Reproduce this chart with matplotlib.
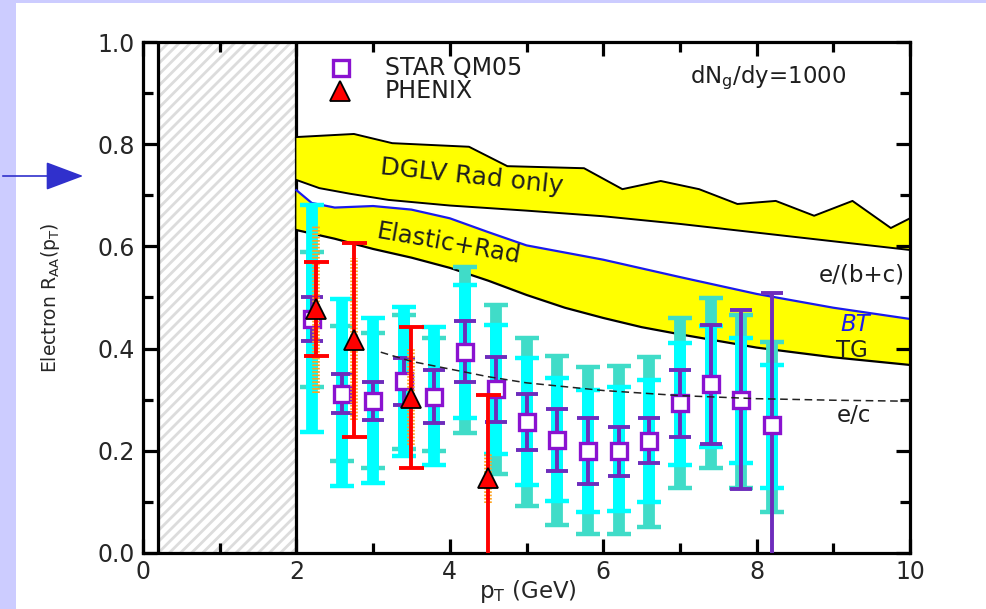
import numpy as np
import matplotlib
matplotlib.use("Agg")
import matplotlib.pyplot as plt
from matplotlib.patches import Rectangle, FancyArrowPatch

plt.rcParams['font.family'] = ['DejaVu Sans']
plt.rcParams['mathtext.fontset'] = 'custom'
plt.rcParams['mathtext.rm'] = 'DejaVu Sans'
plt.rcParams['mathtext.it'] = 'DejaVu Sans:italic'
plt.rcParams['hatch.linewidth'] = 2.0

# ---- theory curves ----
dglv_up_x = [2.0, 2.75, 3.25, 4.25, 4.75, 5.75, 6.25, 6.75, 7.25, 7.75, 8.25, 8.75, 9.25, 9.75, 10.0]
dglv_up_y = [0.814, 0.820, 0.802, 0.795, 0.757, 0.753, 0.712, 0.728, 0.712, 0.683, 0.689, 0.660, 0.689, 0.636, 0.655]
dglv_lo_x = [2.0, 2.3, 2.7, 3.2, 4.0, 5.0, 6.0, 7.0, 8.0, 9.0, 10.0]
dglv_lo_y = [0.730, 0.714, 0.703, 0.691, 0.680, 0.670, 0.659, 0.644, 0.627, 0.610, 0.593]
bt_x = [2.0, 2.2, 2.5, 3.0, 3.5, 4.0, 4.5, 5.0, 5.5, 6.0, 7.0, 8.0, 9.0, 10.0]
bt_y = [0.710, 0.685, 0.676, 0.679, 0.672, 0.655, 0.628, 0.602, 0.588, 0.574, 0.540, 0.507, 0.480, 0.458]
tg_x = [2.0, 2.5, 3.0, 3.5, 4.0, 4.5, 5.0, 5.5, 6.0, 6.5, 7.0, 8.0, 9.0, 10.0]
tg_y = [0.632, 0.615, 0.595, 0.578, 0.558, 0.533, 0.505, 0.480, 0.460, 0.442, 0.428, 0.402, 0.383, 0.368]
ec_x = [3.1, 3.5, 4.0, 4.5, 5.0, 6.0, 7.0, 8.0, 9.0, 10.0]
ec_y = [0.393, 0.375, 0.360, 0.345, 0.333, 0.318, 0.308, 0.302, 0.299, 0.297]

# ---- STAR QM05 ----
star_x = [2.2, 2.6, 3.0, 3.4, 3.8, 4.2, 4.6, 5.0, 5.4, 5.8, 6.2, 6.6, 7.0, 7.4, 7.8, 8.2]
star_y = [0.458, 0.312, 0.298, 0.336, 0.306, 0.394, 0.320, 0.256, 0.221, 0.200, 0.199, 0.220, 0.293, 0.330, 0.300, 0.250]
star_stat = [0.043, 0.038, 0.037, 0.046, 0.052, 0.060, 0.064, 0.055, 0.061, 0.064, 0.048, 0.044, 0.066, 0.117, 0.175, 0.259]
cyan_lo = [0.237, 0.131, 0.137, 0.190, 0.172, 0.264, 0.194, 0.133, 0.102, 0.080, 0.082, 0.100, 0.172, 0.207, 0.176, 0.127]
cyan_hi = [0.681, 0.497, 0.460, 0.482, 0.443, 0.524, 0.446, 0.382, 0.342, 0.319, 0.325, 0.339, 0.411, 0.445, 0.421, 0.368]
turq_lo = [0.325, 0.180, 0.166, 0.203, 0.200, 0.235, 0.155, 0.092, 0.055, 0.037, 0.037, 0.051, 0.127, 0.166, 0.127, 0.080]
turq_hi = [0.589, 0.444, 0.430, 0.466, 0.420, 0.560, 0.485, 0.421, 0.386, 0.364, 0.366, 0.384, 0.460, 0.499, 0.466, 0.413]

# ---- PHENIX ----
ph_x = [2.25, 2.75, 3.5, 4.5]
ph_y = [0.478, 0.417, 0.304, 0.147]
ph_stat = [0.092, 0.190, 0.138, 0.162]
ph_sys_lo = [0.313, 0.260, 0.211, 0.098]
ph_sys_hi = [0.642, 0.577, 0.400, 0.196]

TXT = '#1e1e1e'
W, H = 987, 609
fig = plt.figure(figsize=(W / 100, H / 100), dpi=100, facecolor='#ccccff')
fig.add_artist(Rectangle((16 / W, 0), 1 - 16 / W, 1 - 3 / H, transform=fig.transFigure,
                         facecolor='white', edgecolor='none', zorder=-10))

ax = fig.add_axes([143 / W, (H - 553) / H, 767 / W, 511 / H])
ax.set_xlim(0, 10)
ax.set_ylim(0, 1.0)

# excluded low-pT region
ax.axvspan(0.2, 2.0, facecolor='white', edgecolor='#dcdcdc', hatch='///', linewidth=0, zorder=0)
for xv in (0.2, 2.0):
    ax.axvline(xv, color='black', lw=2.3, zorder=1)

# DGLV radiative band
ax.fill(np.r_[dglv_up_x, dglv_lo_x[::-1]], np.r_[dglv_up_y, dglv_lo_y[::-1]],
        facecolor='#ffff00', edgecolor='none', zorder=1)
ax.plot(dglv_up_x, dglv_up_y, color='black', lw=1.4, zorder=2)
ax.plot(dglv_lo_x, dglv_lo_y, color='black', lw=1.4, zorder=2)

# Elastic + radiative band
ax.fill(np.r_[bt_x, tg_x[::-1]], np.r_[bt_y, tg_y[::-1]],
        facecolor='#ffff00', edgecolor='none', zorder=1)
ax.plot(bt_x, bt_y, color='#1a1aee', lw=1.6, zorder=2)
ax.plot(tg_x, tg_y, color='black', lw=1.6, zorder=2)

# STAR systematic bars
t_lo, t_hi = np.array(turq_lo), np.array(turq_hi)
c_lo, c_hi = np.array(cyan_lo), np.array(cyan_hi)
ax.errorbar(star_x, (t_lo + t_hi) / 2, yerr=(t_hi - t_lo) / 2, fmt='none',
            ecolor='#40dcc8', elinewidth=8.5, capsize=8.5, capthick=3.2, zorder=3)
ax.errorbar(star_x, (c_lo + c_hi) / 2, yerr=(c_hi - c_lo) / 2, fmt='none',
            ecolor='#00ffff', elinewidth=8.5, capsize=8.5, capthick=3.2, zorder=3.1)
# STAR statistical bars and points
ax.errorbar(star_x, star_y, yerr=star_stat, fmt='none', ecolor='#6e2cbc',
            elinewidth=2.8, capsize=8, capthick=2.8, zorder=4)
ax.plot(star_x, star_y, ls='none', marker='s', ms=11, mfc='white', mec='#8a12d0',
        mew=2.4, zorder=4.5)

# PHENIX systematic, statistical and points
for x, lo, hi in zip(ph_x, ph_sys_lo, ph_sys_hi):
    ax.plot([x, x], [lo, hi], color='#ffa420', lw=5.5, ls=(0, (0.22, 0.22)),
            solid_capstyle='butt', dash_capstyle='butt', zorder=5)
ax.errorbar(ph_x, ph_y, yerr=ph_stat, fmt='none', ecolor='#ff0000',
            elinewidth=2.8, capsize=9, capthick=2.8, zorder=5.2)
ax.plot(ph_x, ph_y, ls='none', marker='^', ms=15, mfc='#ff0000', mec='black',
        mew=1.3, zorder=5.5)

# e/c dashed curve
ax.plot(ec_x, ec_y, color='#222222', lw=1.1, ls=(0, (5, 3)), zorder=6)

# curve labels
ax.text(4.28, 0.736, 'DGLV Rad only', fontsize=18, rotation=-6, ha='center', va='center',
        color=TXT, zorder=7)
ax.text(3.98, 0.606, 'Elastic+Rad', fontsize=17.5, rotation=-10, ha='center', va='center',
        color=TXT, zorder=7)
ax.text(9.93, 0.544, 'e/(b+c)', fontsize=16.5, ha='right', va='center', color=TXT, zorder=7)
ax.text(9.28, 0.448, 'BT', fontsize=16.5, style='italic', ha='center', va='center',
        color='#1a1aee', zorder=7)
ax.text(9.24, 0.397, 'TG', fontsize=16.5, ha='center', va='center', color=TXT, zorder=7)
ax.text(9.27, 0.270, 'e/c', fontsize=16.5, ha='center', va='center', color=TXT, zorder=7)
ax.text(0.713, 0.93, r'dN$_{\rm g}$/dy=1000', transform=ax.transAxes, fontsize=16.5,
        ha='left', va='center', color=TXT, zorder=7)

# legend
ax.plot([0.258], [0.949], transform=ax.transAxes, ls='none', marker='s', ms=11,
        mfc='white', mec='#8a12d0', mew=2.4, clip_on=False, zorder=8)
ax.plot([0.257], [0.904], transform=ax.transAxes, ls='none', marker='^', ms=15,
        mfc='#ff0000', mec='black', mew=1.3, clip_on=False, zorder=8)
ax.text(0.3155, 0.949, 'STAR QM05', transform=ax.transAxes, fontsize=17,
        ha='left', va='center', color=TXT)
ax.text(0.3155, 0.904, 'PHENIX', transform=ax.transAxes, fontsize=17,
        ha='left', va='center', color=TXT)

# axes styling
for s in ax.spines.values():
    s.set_linewidth(2.3)
ax.set_xticks([0, 2, 4, 6, 8, 10])
ax.set_xticks([1, 3, 5, 7, 9], minor=True)
ax.set_yticks(np.arange(0, 1.01, 0.2))
ax.set_yticks(np.arange(0.1, 1.0, 0.2), minor=True)
ax.set_yticklabels([f'{v:.1f}' for v in np.arange(0, 1.01, 0.2)])
ax.tick_params(which='both', direction='in', top=True, right=True, width=2.3,
               labelsize=17, labelcolor='#262626')
ax.tick_params(which='major', length=10)
ax.tick_params(which='minor', length=7)
ax.tick_params(axis='x', pad=5)
ax.tick_params(axis='y', pad=6)

ax.set_ylabel(r'Electron R$_{\rm AA}$(p$_{\rm T}$)', fontsize=13.5, color='#262626')
ax.yaxis.set_label_coords(-0.106, 0.5)
ax.set_xlabel(r'p$_{\rm T}$ (GeV)', fontsize=16.5, color='#262626', va='baseline')
ax.xaxis.set_label_coords(0.502, -0.088)

# pointer arrow at the left margin
fig.add_artist(FancyArrowPatch((0, 1 - 176 / H), (86 / W, 1 - 176 / H),
                               transform=fig.transFigure, arrowstyle='-|>,head_length=1.2,head_width=0.45',
                               mutation_scale=20, color='#3030cc', lw=1.2))

fig.savefig('out.png', dpi=100, facecolor=fig.get_facecolor())
